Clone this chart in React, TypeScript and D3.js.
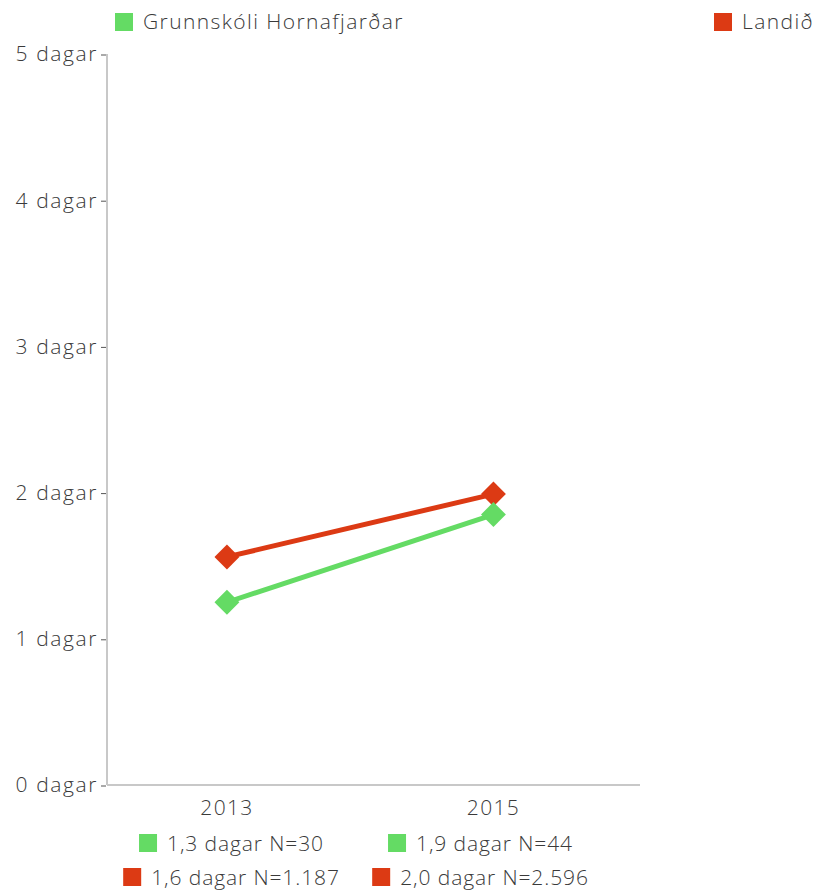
import React, { useEffect, useRef } from "react";
import { select, scaleLinear, scalePoint, scaleBand, line, symbol, symbolSquare } from "d3";

// data
const categories = ["2013", "2015"];
const seriesNames = ["Grunnskóli Hornafjarðar", "Landið"];
const schoolValues = [1.25, 1.85];
const countryValues = [1.56, 1.99];
const schoolLabels = ["1,3 dagar N=30", "1,9 dagar N=44"];
const countryLabels = ["1,6 dagar N=1.187", "2,0 dagar N=2.596"];
const yTicks = [0, 1, 2, 3, 4, 5];
const colors = ["#64db64", "#dc3a14"];

const W = 821;
const H = 890;
const FONT = "'Open Sans', Lato, sans-serif";
const TEXT = "#3a3a3a";

// shared text styling
function styleText(sel: any, spacing = 1.3) {
  return sel
    .attr("fill", TEXT)
    .style("font-family", FONT)
    .style("font-size", "21px")
    .style("font-weight", 300)
    .style("letter-spacing", `${spacing}px`);
}

function App() {
  const svgRef = useRef<SVGSVGElement>(null);

  useEffect(() => {
    const svg = select(svgRef.current);
    svg.selectAll("*").remove();

    const left = 107;
    const right = 640;
    const top = 54;
    const bottom = 785;

    const x = scalePoint<string>().domain(categories).range([left, right]).padding(0.5).align(0.45);
    const y = scaleLinear().domain([0, 5]).range([bottom, top]);
    const legendCols = scaleBand<string>().domain(categories).range([left, 605]);

    // axes
    svg.append("line")
      .attr("x1", left).attr("x2", left).attr("y1", top).attr("y2", bottom)
      .attr("stroke", "#c8c8c8").attr("stroke-width", 2);
    svg.append("line")
      .attr("x1", left).attr("x2", right).attr("y1", bottom).attr("y2", bottom)
      .attr("stroke", "#c8c8c8").attr("stroke-width", 2);

    const yt = svg.append("g").selectAll("g").data(yTicks).join("g")
      .attr("transform", d => `translate(0,${y(d)})`);
    yt.append("line").attr("x1", left - 6).attr("x2", left - 1).attr("y1", 1).attr("y2", 1)
      .attr("stroke", "#555").attr("stroke-width", 1);
    styleText(yt.append("text").attr("x", left - 9).attr("dy", "0.35em")
      .attr("text-anchor", "end"), 1.6)
      .text(d => `${d} dagar`);

    styleText(svg.append("g").selectAll("text").data(categories).join("text")
      .attr("x", d => x(d)!).attr("y", 815)
      .attr("text-anchor", "middle"))
      .text(d => d);

    // lines + diamonds, country first so the school series sits on top
    const series = [
      { values: countryValues, color: colors[1] },
      { values: schoolValues, color: colors[0] },
    ];
    const lineGen = line<number>().x((_, i) => x(categories[i])!).y(d => y(d));
    const diamond = symbol().type(symbolSquare).size(310);
    series.forEach(s => {
      svg.append("path").attr("d", lineGen(s.values)).attr("fill", "none")
        .attr("stroke", s.color).attr("stroke-width", 5);
      svg.append("g").selectAll("path").data(s.values).join("path")
        .attr("d", diamond()!)
        .attr("transform", (d, i) => `translate(${x(categories[i])},${y(d)}) rotate(45)`)
        .attr("fill", s.color);
    });

    // top legend
    const topLegend = [
      { name: seriesNames[0], color: colors[0], x: 115 },
      { name: seriesNames[1], color: colors[1], x: 714 },
    ];
    topLegend.forEach(l => {
      svg.append("rect").attr("x", l.x).attr("y", 13).attr("width", 18).attr("height", 18).attr("fill", l.color);
      styleText(svg.append("text").attr("x", l.x + 28).attr("y", 29), 1.4).text(l.name);
    });

    // bottom legend, centred per category column
    const rows = [
      { labels: schoolLabels, color: colors[0], top: 834 },
      { labels: countryLabels, color: colors[1], top: 868 },
    ];
    rows.forEach(r => {
      r.labels.forEach((lab, i) => {
        const g = svg.append("g");
        g.append("rect").attr("x", 0).attr("y", r.top).attr("width", 18).attr("height", 18).attr("fill", r.color);
        const t = styleText(g.append("text").attr("x", 28).attr("y", r.top + 17), 0.9).text(lab);
        const w = 28 + (t.node() as SVGTextElement).getComputedTextLength();
        const cx = legendCols(categories[i])! + legendCols.bandwidth() / 2;
        g.attr("transform", `translate(${cx - w / 2},0)`);
      });
    });
  }, []);

  return (
    <svg ref={svgRef} width={W} height={H}
      style={{ position: "absolute", left: 0, top: 0, background: "#fff" }} />
  );
}

export default App;
